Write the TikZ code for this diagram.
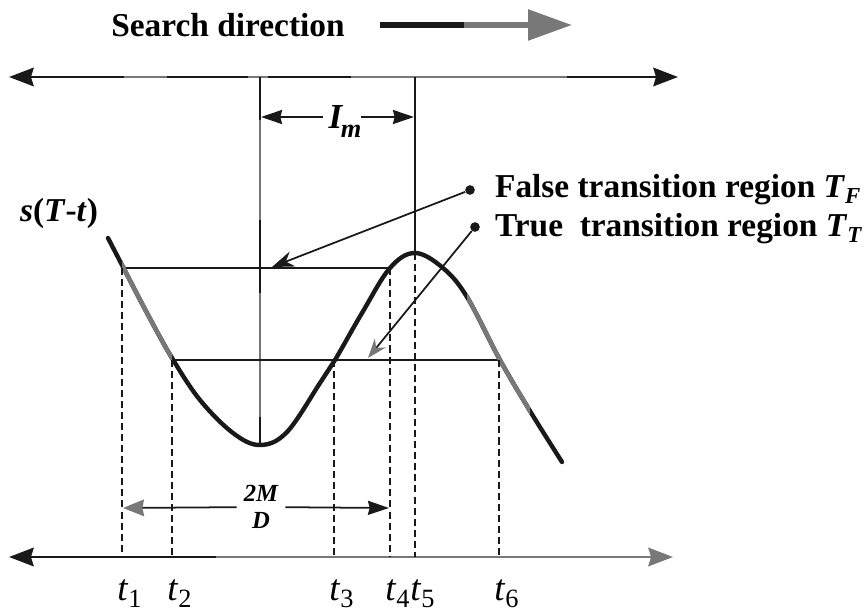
\documentclass[tikz,border=0pt]{standalone}
\usepackage{fontspec}
\setmainfont{Liberation Serif}
\usetikzlibrary{arrows.meta, positioning}
\definecolor{InkBlack}{RGB}{25,25,25}
\definecolor{ScanGray}{RGB}{120,120,120}
\newcommand{\tsub}[1]{\textit{t}\raisebox{-4.5pt}{\fontsize{15}{15}\selectfont #1}}
\newcommand{\bsub}[2]{\textit{#1}\raisebox{-3pt}{\fontsize{13}{13}\selectfont\textit{#2}}}
\newcommand{\mdtxt}[1]{{\fontsize{14}{14}\selectfont\bfseries\itshape #1}}
\def\sigcurve{plot[smooth, tension=0.6] coordinates {(108,238) (122,265) (147,313) (172,358)
	(200,400) (233,433) (260,445) (287,432) (320,383) (335,360) (362,313) (390,268) (415,253)
	(443,268) (467,297) (500,360) (530,411) (562,462)}}

\begin{document}
\begin{tikzpicture}[x=0.02cm, y=-0.02cm,
	lbl/.style={font=\fontsize{19}{21}\selectfont\bfseries, inner sep=1pt},
	tl/.style={font=\fontsize{21}{23}\selectfont, inner sep=0pt},
	ax/.style={line width=1.7pt, InkBlack, >={Stealth[length=14pt, width=10.5pt, inset=1.5pt]}},
	axg/.style={ax, ScanGray},
	sdl/.style={line width=3.4pt},
	crv/.style={line width=2.5pt, InkBlack, line cap=round},
	thn/.style={line width=0.9pt, InkBlack},
	dsh/.style={line width=1.6pt, InkBlack, dash pattern=on 4pt off 2.3pt},
	dim/.style={line width=1pt, InkBlack, -{Stealth[length=12pt, width=8pt, inset=1pt]}},
	mdarr/.style={line width=1pt, InkBlack, -{Stealth[length=12pt, width=8pt, inset=1pt]}},
	bull/.style={circle, fill=InkBlack, inner sep=0pt, minimum size=5.5pt},
	ptr/.style={line width=1pt, InkBlack, -{Stealth[length=12.5pt, width=9pt]}}]

	\useasboundingbox (0,0) rectangle (866,615);

	% search direction
	\node[lbl] (sd) at (228,25) {Search direction};
	\coordinate (sdA) at (380,25);
	\coordinate (sdB) at (464,25);
	\coordinate (sdC) at (572,25);
	\draw[sdl, InkBlack] (sdA) -- (sdB);
	\draw[sdl, ScanGray, -{Triangle[length=25pt, width=17pt]}] (sdB) -- (sdC);

	% axes
	\coordinate (axTL) at (9,77); \coordinate (axTR) at (678,77);
	\draw[ax, <->] (axTL) -- (axTR);
	\foreach \a/\b in {124/167, 248/268, 351/567} \draw[axg] (\a,77) -- (\b,77);
	\coordinate (axBL) at (9,557); \coordinate (axBM) at (216,557); \coordinate (axBR) at (673,557);
	\draw[ax, <-] (axBL) -- (axBM);
	\draw[axg, ->] (axBM) -- (axBR);

	% reference lines
	\coordinate (cTop) at (260,77); \coordinate (cBot) at (260,445);
	\coordinate (pTop) at (415,77); \coordinate (pk) at (415,253);
	\draw[thn] (cTop) -- (cBot);
	\draw[thn, ScanGray] (260,120) -- (260,220);
	\draw[thn, ScanGray] (260,293) -- (260,417);
	\draw[thn] (pTop) -- (pk);
	\coordinate (hAL) at (122,268); \coordinate (hAR) at (390,268);
	\coordinate (hBL) at (172,360); \coordinate (hBR) at (500,360);
	\draw[thn] (hAL) -- (hAR);
	\draw[thn] (hBL) -- (hBR);

	% s(T-t)
	\draw[crv] \sigcurve;
	\foreach \a/\b in {122/172, 467/530} {
		\begin{scope}
			\clip (\a,200) rectangle (\b,480);
			\draw[crv, ScanGray] \sigcurve;
		\end{scope}
	}
	\node[lbl] (sig) at (59,213) {\textit{s}(\textit{T}-\textit{t})};

	% t marks
	\foreach \n/\x/\y in {1/122/268, 2/172/360, 3/334/360, 4/390/268, 5/415/253, 6/499/360} {
		\coordinate (u\n) at (\x,\y);
		\coordinate (d\n) at (\x,557);
		\draw[dsh] (u\n) -- (d\n);
		\node[tl, anchor=base west] (t\n) at (\x-5,600) {\tsub{\n}};
	}

	% I_m
	\node[lbl, font=\fontsize{20}{22}\selectfont\bfseries, inner sep=3pt] (im) at (336,117) {\textit{I}};
	\node[lbl, font=\fontsize{15}{15}\selectfont\bfseries] (ims) at (351,131) {\textit{m}};
	\coordinate (imL) at (261,117); \coordinate (imR) at (414,117);
	\draw[dim] (im) -- (imL);
	\draw[dim] ([xshift=7pt]im.east) -- (imR);

	% 2M/D
	\node[inner sep=4pt, align=center] (md) at (261,507) {\mdtxt{2M}\\[3pt]\mdtxt{D}};
	\coordinate (mdL) at (123,508); \coordinate (mdR) at (389,508);
	\draw[mdarr, -{Stealth[length=12pt, width=9.5pt, inset=1pt, color=ScanGray]}] (md) -- (mdL);
	\draw[mdarr] (md) -- (mdR);

	% regions
	\node[bull] (fdot) at (470,190) {};
	\node[bull] (tdot) at (475,227) {};
	\coordinate (fTip) at (272,267);
	\coordinate (tTip) at (368,358);
	\draw[ptr] (fdot) -- (fTip);
	\draw[ptr, -{Stealth[length=11pt, width=8pt, color=ScanGray]}] (tdot) -- (tTip);
	\node[lbl, anchor=west] (fl) at (493,190) {False transition region \bsub{T}{F}};
	\node[lbl, anchor=west] (tt) at (493,229) {True\ \ transition region \bsub{T}{T}};
\end{tikzpicture}
\end{document}
